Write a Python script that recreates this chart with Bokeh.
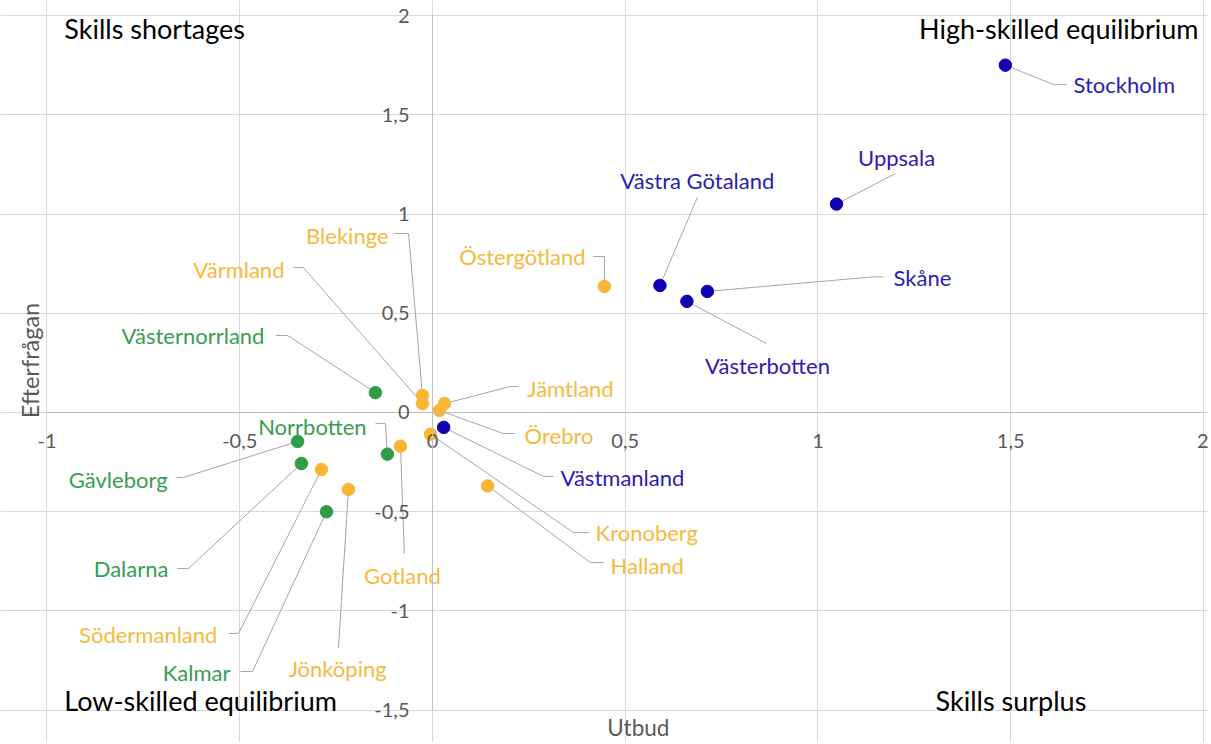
import math
from bokeh.plotting import figure
from bokeh.models import Range1d, FixedTicker, ColumnDataSource
from bokeh.embed import file_html
from bokeh.resources import INLINE
from bokeh.core.properties import value

# ---------------- data ----------------
regions = ["Stockholm", "Uppsala", "Västra Götaland", "Skåne", "Västerbotten",
           "Östergötland", "Blekinge", "Värmland", "Västernorrland", "Jämtland",
           "Örebro", "Västmanland", "Kronoberg", "Halland", "Gotland",
           "Norrbotten", "Gävleborg", "Dalarna", "Södermanland", "Kalmar",
           "Jönköping"]
utbud = [1.486, 1.048, 0.590, 0.713, 0.660,
         0.446, -0.026, -0.026, -0.148, 0.031,
         0.018, 0.029, -0.005, 0.143, -0.083,
         -0.117, -0.350, -0.340, -0.288, -0.275,
         -0.218]
efterfragan = [1.750, 1.050, 0.640, 0.610, 0.560,
               0.635, 0.086, 0.045, 0.100, 0.045,
               0.010, -0.075, -0.110, -0.370, -0.170,
               -0.210, -0.146, -0.257, -0.287, -0.500,
               -0.388]
group = ["blue", "blue", "blue", "blue", "blue",
         "orange", "orange", "orange", "green", "orange",
         "orange", "blue", "orange", "orange", "orange",
         "green", "green", "green", "orange", "green",
         "orange"]

x_ticks = [-1, -0.5, 0, 0.5, 1, 1.5, 2]
x_tick_labels = ["-1", "-0,5", "0", "0,5", "1", "1,5", "2"]
y_ticks = [-1.5, -1, -0.5, 0, 0.5, 1, 1.5, 2]
y_tick_labels = ["-1,5", "-1", "-0,5", "0", "0,5", "1", "1,5", "2"]

x_title = "Utbud"
y_title = "Efterfrågan"
quadrants = ["Skills shortages", "High-skilled equilibrium",
             "Low-skilled equilibrium", "Skills surplus"]

# ---------------- styles / layout ----------------
POINT_COLORS = {"blue": "#1200B4", "orange": "#FBB532", "green": "#2E9C48"}
LABEL_COLORS = {"blue": "#2B1DB0", "orange": "#F6B93E", "green": "#389D50"}
FONT = "Lato"

# label anchor (data units), alignment, leader waypoints after the point
LABEL_LAYOUT = {
    "Stockholm":       (1.663, 1.652, "left",   [(1.611, 1.652), (1.645, 1.652)]),
    "Uppsala":         (1.204, 1.285, "center", [(1.201, 1.204)]),
    "Västra Götaland": (0.687, 1.169, "center", [(0.687, 1.083)]),
    "Skåne":           (1.196, 0.680, "left",   [(1.141, 0.683), (1.170, 0.683)]),
    "Västerbotten":    (0.869, 0.237, "center", [(0.866, 0.348)]),
    "Östergötland":    (0.397, 0.786, "right",  [(0.446, 0.786), (0.418, 0.786)]),
    "Blekinge":        (-0.114, 0.894, "right", [(-0.062, 0.902), (-0.099, 0.902)]),
    "Värmland":        (-0.384, 0.722, "right", [(-0.335, 0.730), (-0.361, 0.730)]),
    "Västernorrland":  (-0.436, 0.388, "right", [(-0.376, 0.388), (-0.407, 0.388)]),
    "Jämtland":        (0.246, 0.120, "left",   [(0.202, 0.131), (0.223, 0.131)]),
    "Örebro":          (0.239, -0.116, "left",  [(0.184, -0.106), (0.213, -0.106)]),
    "Västmanland":     (0.332, -0.327, "left",  [(0.288, -0.322), (0.314, -0.322)]),
    "Kronoberg":       (0.423, -0.605, "left",  [(0.366, -0.605), (0.405, -0.605)]),
    "Halland":         (0.462, -0.770, "left",  [(0.410, -0.756), (0.444, -0.756)]),
    "Gotland":         (-0.078, -0.820, "center", [(-0.073, -0.710)]),
    "Norrbotten":      (-0.171, -0.070, "right", [(-0.122, -0.055), (-0.148, -0.055)]),
    "Gävleborg":       (-0.687, -0.338, "right", [(-0.646, -0.327), (-0.664, -0.327)]),
    "Dalarna":         (-0.685, -0.786, "right", [(-0.633, -0.786), (-0.661, -0.786)]),
    "Södermanland":    (-0.558, -1.120, "right", [(-0.503, -1.113), (-0.529, -1.113)]),
    "Kalmar":          (-0.524, -1.312, "right", [(-0.467, -1.305), (-0.498, -1.305)]),
    "Jönköping":       (-0.246, -1.290, "center", [(-0.244, -1.189)]),
}

QUAD_LAYOUT = [(-0.955, 1.935, "left"), (1.987, 1.935, "right"),
               (-0.955, -1.451, "left"), (1.305, -1.451, "left")]

# ---------------- figure ----------------
p = figure(width=1208, height=742,
           x_range=Range1d(-1.1206, 2.013), y_range=Range1d(-1.6625, 2.0756),
           output_backend="svg", toolbar_location=None, min_border=0)
p.outline_line_color = None
p.background_fill_color = "white"

# grid
p.xgrid.ticker = FixedTicker(ticks=x_ticks)
p.ygrid.ticker = FixedTicker(ticks=y_ticks)
p.xgrid.bounds = (min(y_ticks), max(y_ticks))
p.ygrid.bounds = (min(x_ticks), max(x_ticks))
p.grid.grid_line_color = "#D9D9D9"
p.grid.grid_line_width = 1

# axes crossing at zero
for ax, ticks, labels, bnds, so in ((p.xaxis[0], x_ticks, x_tick_labels, (min(x_ticks), max(x_ticks)), 22),
                                    (p.yaxis[0], y_ticks, y_tick_labels, (min(y_ticks), max(y_ticks)), 23)):
    ax.fixed_location = 0
    ax.ticker = FixedTicker(ticks=ticks)
    ax.major_label_overrides = {t: l for t, l in zip(ticks, labels)}
    ax.bounds = bnds
    ax.axis_line_color = "#BFBFBF"
    ax.major_tick_line_color = None
    ax.minor_tick_line_color = None
    ax.major_tick_out = 0
    ax.major_tick_in = 0
    ax.minor_tick_out = 0
    ax.major_label_text_color = "#595959"
    ax.major_label_text_font = FONT
    ax.major_label_text_font_size = "20px"
    ax.major_label_standoff = so

# leader lines
lx, ly = [], []
for name, x0, y0 in zip(regions, utbud, efterfragan):
    way = LABEL_LAYOUT[name][3]
    lx.append([x0] + [w[0] for w in way])
    ly.append([y0] + [w[1] for w in way])
p.multi_line(xs=lx, ys=ly, line_color="#A6A6A6", line_width=1)

# points
pts = ColumnDataSource(dict(x=utbud, y=efterfragan,
                            c=[POINT_COLORS[g] for g in group]))
p.scatter("x", "y", source=pts, size=12.5, fill_color="c", line_color="c")

# data labels
for align in ("left", "right", "center"):
    d = dict(x=[], y=[], t=[], c=[])
    for name, g in zip(regions, group):
        ax_, ay_, al, _ = LABEL_LAYOUT[name]
        if al == align:
            d["x"].append(ax_)
            d["y"].append(ay_)
            d["t"].append(name)
            d["c"].append(LABEL_COLORS[g])
    p.text("x", "y", text="t", source=ColumnDataSource(d), text_color="c",
           text_align=align, text_baseline="middle",
           text_font=value(FONT), text_font_size="22px")

# quadrant labels
for txt, (qx, qy, al) in zip(quadrants, QUAD_LAYOUT):
    p.text(x=[qx], y=[qy], text=[txt], text_align=al, text_baseline="middle",
           text_color="black", text_font=value(FONT), text_font_size="27px")

# axis titles
p.text(x=[0.534], y=[-1.585], text=[x_title], text_align="center",
       text_baseline="middle", text_color="#595959",
       text_font=value(FONT), text_font_size="22.5px")
p.text(x=[-1.043], y=[0.262], text=[y_title], angle=math.pi / 2,
       text_align="center", text_baseline="middle", text_color="#595959",
       text_font=value(FONT), text_font_size="23.5px")

open("out.html", "w").write(file_html(p, INLINE))
